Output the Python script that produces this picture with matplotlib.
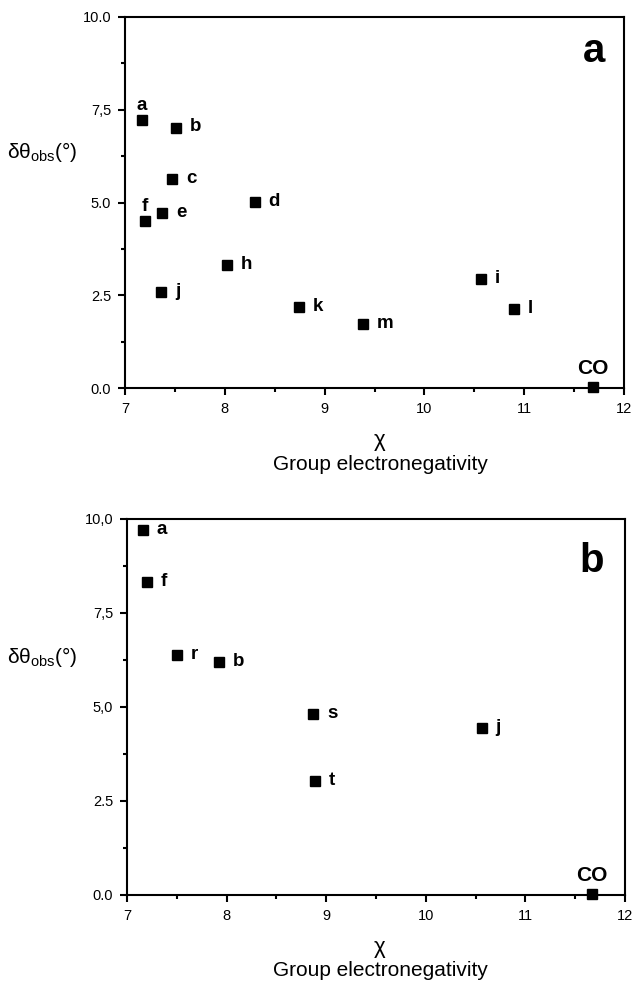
import matplotlib
matplotlib.use("Agg")
import matplotlib.pyplot as plt
from matplotlib.ticker import MultipleLocator, FixedLocator, FixedFormatter

plt.rcParams['font.family'] = ['Liberation Sans', 'DejaVu Sans']
plt.rcParams['mathtext.fontset'] = 'custom'
plt.rcParams['mathtext.rm'] = 'Liberation Sans'
plt.rcParams['mathtext.it'] = 'Liberation Sans:italic'
plt.rcParams['mathtext.bf'] = 'Liberation Sans:bold'

# Panel a data
labels_a = ['a', 'b', 'c', 'd', 'e', 'f', 'j', 'h', 'k', 'm', 'i', 'l', 'CO']
chi_a = [7.17, 7.51, 7.47, 8.30, 7.37, 7.20, 7.36, 8.02, 8.74, 9.38, 10.57, 10.90, 11.69]
dtheta_a = [7.22, 7.02, 5.64, 5.01, 4.71, 4.50, 2.59, 3.32, 2.19, 1.72, 2.93, 2.13, 0.03]

# Panel b data
labels_b = ['a', 'f', 'r', 'b', 's', 't', 'j', 'CO']
chi_b = [7.16, 7.20, 7.50, 7.92, 8.87, 8.89, 10.56, 11.67]
dtheta_b = [9.70, 8.32, 6.38, 6.20, 4.81, 3.02, 4.44, 0.03]

xticks = [7, 8, 9, 10, 11, 12]
yticks = [0.0, 2.5, 5.0, 7.5, 10.0]
yticklabels_a = ['0.0', '2.5', '5.0', '7,5', '10.0']
yticklabels_b = ['0.0', '2.5', '5,0', '7,5', '10,0']

fig = plt.figure(figsize=(6.36, 9.91), dpi=100)


def draw(ax, labels, xs, ys, yticklabels, letter, letter_pos, above_labels):
    ax.plot(xs, ys, linestyle='none', marker='s', ms=7.5, color='black',
            clip_on=False, zorder=5)
    for lab, x, y in zip(labels, xs, ys):
        if lab == 'CO':
            ax.annotate(lab, (x, y), xytext=(0, 9), textcoords='offset points',
                        ha='center', va='baseline', fontsize=15, fontweight='bold')
        elif lab in above_labels:
            ax.annotate(lab, (x, y), xytext=(0, 7.5), textcoords='offset points',
                        ha='center', va='baseline', fontsize=13.5, fontweight='bold')
        else:
            ax.annotate(lab, (x, y), xytext=(10, 0.5), textcoords='offset points',
                        ha='left', va='center', fontsize=13.5, fontweight='bold')
    ax.set_xlim(7, 12)
    ax.set_ylim(0, 10)
    ax.xaxis.set_major_locator(FixedLocator(xticks))
    ax.xaxis.set_minor_locator(MultipleLocator(0.5))
    ax.yaxis.set_major_locator(FixedLocator(yticks))
    ax.yaxis.set_major_formatter(FixedFormatter(yticklabels))
    ax.yaxis.set_minor_locator(MultipleLocator(1.25))
    ax.tick_params(which='both', direction='out', top=False, right=False,
                   width=1.5, labelsize=10.5)
    ax.tick_params(which='major', length=5)
    ax.tick_params(which='minor', length=3)
    ax.tick_params(axis='x', which='major', pad=5)
    ax.tick_params(axis='y', which='major', pad=5)
    for s in ax.spines.values():
        s.set_linewidth(1.5)
    ax.text(letter_pos[0], letter_pos[1], letter, transform=ax.transAxes,
            ha='right', va='baseline', fontsize=29, fontweight='bold')


ylabel = r'$\mathrm{\delta\theta_{obs}}$(°)'

# Top axes
ax1 = fig.add_axes([125/636, 1-388/991, 499/636, 371/991])
draw(ax1, labels_a, chi_a, dtheta_a, yticklabels_a, 'a', (0.963, 0.879), ['a', 'f'])
fig.text(380/636, 1-441/991, 'χ', ha='center', va='center', fontsize=16)
fig.text(380/636, 1-464/991, 'Group electronegativity', ha='center', va='center', fontsize=15)
fig.text(7/636, 1-152/991, ylabel, ha='left', va='center', fontsize=15)

# Bottom axes
ax2 = fig.add_axes([127/636, 1-895/991, 498/636, 376/991])
draw(ax2, labels_b, chi_b, dtheta_b, yticklabels_b, 'b', (0.957, 0.859), [])
fig.text(380/636, 1-948/991, 'χ', ha='center', va='center', fontsize=16)
fig.text(380/636, 1-971/991, 'Group electronegativity', ha='center', va='center', fontsize=15)
fig.text(7/636, 1-657/991, ylabel, ha='left', va='center', fontsize=15)

fig.savefig('out.png', dpi=100)
